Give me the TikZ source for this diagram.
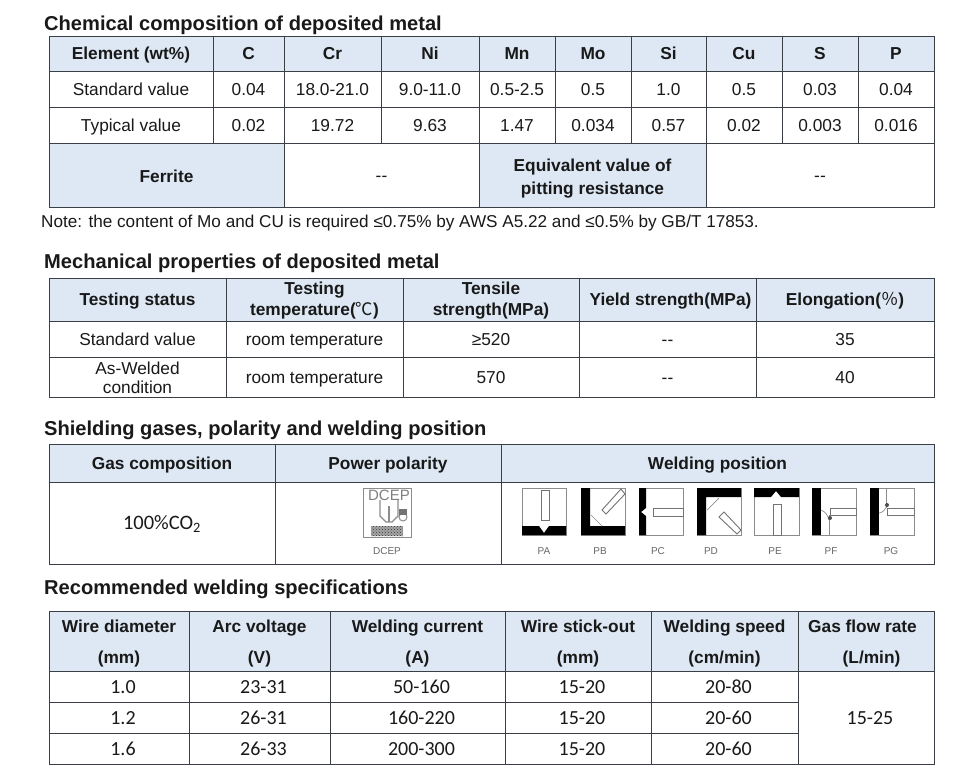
\documentclass[tikz,border=0pt]{standalone}
\usepackage{fontspec}
\setmainfont{Liberation Sans}
\newfontfamily\calfont{Carlito}
\newfontfamily\cjkfont{Noto Sans CJK SC}
\usepackage{xcolor}
\usetikzlibrary{positioning, patterns}
\definecolor{headblue}{HTML}{DDE8F4}
\definecolor{rulegray}{HTML}{3A3F45}
\definecolor{icongray}{HTML}{8C8C8C}
\tikzset{
  sectitle/.style={anchor=west, inner sep=0pt, font=\fontsize{20.1}{24}\selectfont\bfseries, text=black!90},
  bodycell/.style={draw=rulegray, line width=1pt, outer sep=0pt, inner sep=0pt, align=center, text=black!90, text height=15pt, text depth=2pt, font=\fontsize{17.3}{20}\selectfont},
  headcell/.style={bodycell, fill=headblue, text height=14pt, font=\fontsize{17.3}{21}\selectfont\bfseries},
  calcell/.style={bodycell, font=\fontsize{20}{22}\selectfont\calfont, execute at begin node={\hspace*{8pt}}},
  iconbox/.style={draw=icongray, line width=0.8pt},
  iconblack/.style={fill=black, draw=none},
  iconthin/.style={draw=icongray, line width=0.7pt},
  rodline/.style={draw=black!55, fill=white, line width=0.9pt},
  iconlabel/.style={inner sep=0pt, text=black!60, font=\fontsize{10}{11}\selectfont}
}
\begin{document}
\begin{tikzpicture}[x=1pt, y=-1pt]
  \useasboundingbox (0,0) rectangle (980,780);

  % first table
  \node (chemtitle) [sectitle] at (44,25) {Chemical composition of deposited metal};
  \node (elem) [headcell, anchor=north west, minimum width=164pt, minimum height=35pt] at (49,36) {Element (wt\%)};
  \foreach \nm/\prv/\cw/\txt in {hC/elem/71/C, hCr/hC/97/Cr, hNi/hCr/98/Ni, hMn/hNi/76/Mn, hMo/hMn/76/Mo, hSi/hMo/75/Si, hCu/hSi/76/Cu, hS/hCu/76/S, hP/hS/76/P}
    \node (\nm) [headcell, minimum width=\cw pt, minimum height=35pt, right=0pt of \prv] {\txt};

  \node (stdval) [bodycell, anchor=north west, minimum width=164pt, minimum height=36pt] at (elem.south west) {Standard value};
  \foreach \nm/\prv/\cw/\txt in {sC/stdval/71/0.04, sCr/sC/97/18.0-21.0, sNi/sCr/98/9.0-11.0, sMn/sNi/76/0.5-2.5, sMo/sMn/76/0.5, sSi/sMo/75/1.0, sCu/sSi/76/0.5, sS/sCu/76/0.03, sP/sS/76/0.04}
    \node (\nm) [bodycell, minimum width=\cw pt, minimum height=36pt, right=0pt of \prv] {\txt};

  \node (typval) [bodycell, anchor=north west, minimum width=164pt, minimum height=36pt] at (stdval.south west) {Typical value};
  \foreach \nm/\prv/\cw/\txt in {tC/typval/71/0.02, tCr/tC/97/19.72, tNi/tCr/98/9.63, tMn/tNi/76/1.47, tMo/tMn/76/0.034, tSi/tMo/75/0.57, tCu/tSi/76/0.02, tS/tCu/76/0.003, tP/tS/76/0.016}
    \node (\nm) [bodycell, minimum width=\cw pt, minimum height=36pt, right=0pt of \prv] {\txt};

  \node (ferrite) [headcell, anchor=north west, minimum width=235pt, minimum height=64pt, text height=16pt] at (typval.south west) {Ferrite};
  \node (ferval) [bodycell, minimum width=195pt, minimum height=64pt, right=0pt of ferrite] {-{}-};
  \node (equiv) [headcell, minimum width=227pt, minimum height=64pt, right=0pt of ferval, text height=40pt, font=\fontsize{17.3}{23}\selectfont\bfseries] {Equivalent value of\\pitting resistance};
  \node (eqval) [bodycell, minimum width=228pt, minimum height=64pt, right=0pt of equiv] {-{}-};
  \node (note) [anchor=west, inner sep=0pt, text=black!90, font=\fontsize{17.15}{20}\selectfont] at (41,223) {Note: the content of Mo and CU is required ≤0.75\% by AWS A5.22 and ≤0.5\% by GB/T 17853.};

  % second table
  \node (mechtitle) [sectitle] at (44,263) {Mechanical properties of deposited metal};
  \node (status) [headcell, anchor=north west, minimum width=177pt, minimum height=43pt] at (49,278) {Testing status};
  \node (temphd) [headcell, minimum width=177pt, minimum height=43pt, right=0pt of status, text height=33pt] {Testing\\temperature({\mdseries\cjkfont ℃})};
  \node (tensile) [headcell, minimum width=176pt, minimum height=43pt, right=0pt of temphd, text height=33pt] {Tensile\\strength(MPa)};
  \node (yield) [headcell, minimum width=177pt, minimum height=43pt, right=0pt of tensile] {\hspace*{6pt}Yield strength(MPa)};
  \node (elong) [headcell, minimum width=178pt, minimum height=43pt, right=0pt of yield] {Elongation({\mdseries\cjkfont ％})};

  \node (mstd) [bodycell, anchor=north west, minimum width=177pt, minimum height=36pt] at (status.south west) {Standard value};
  \foreach \nm/\prv/\cw/\txt in {mstdT/mstd/177/room temperature, mstdS/mstdT/176/≥520, mstdY/mstdS/177/-{}-, mstdE/mstdY/178/35}
    \node (\nm) [bodycell, minimum width=\cw pt, minimum height=36pt, right=0pt of \prv] {\txt};

  \node (mweld) [bodycell, anchor=north west, minimum width=177pt, minimum height=40pt, text height=35pt, font=\fontsize{17.3}{19}\selectfont] at (mstd.south west) {As-Welded\\condition};
  \foreach \nm/\prv/\cw/\txt in {mweldT/mweld/177/room temperature, mweldS/mweldT/176/570, mweldY/mweldS/177/-{}-, mweldE/mweldY/178/40}
    \node (\nm) [bodycell, minimum width=\cw pt, minimum height=40pt, right=0pt of \prv] {\txt};

  % third table
  \node (gastitle) [sectitle] at (44,430) {Shielding gases, polarity and welding position};
  \node (gashd) [headcell, anchor=north west, minimum width=226pt, minimum height=38pt, text height=15pt] at (49,444) {Gas composition};
  \node (polhd) [headcell, minimum width=226pt, minimum height=38pt, right=0pt of gashd, text height=15pt] {Power polarity};
  \node (poshd) [headcell, minimum width=433pt, minimum height=38pt, right=0pt of polhd, text height=15pt] {Welding position};
  \node (gasval) [bodycell, anchor=north west, minimum width=226pt, minimum height=82pt, font=\fontsize{20.5}{22}\selectfont\calfont] at (gashd.south west) {100\%CO\textsubscript{2}};
  \node (polval) [bodycell, minimum width=226pt, minimum height=82pt, anchor=north west] at (polhd.south west) {};
  \node (posval) [bodycell, minimum width=433pt, minimum height=82pt, right=0pt of polval] {};

  % polarity icon
  \begin{scope}[shift={(363,488)}]
    \draw [iconbox, fill=white] (0,0) rectangle (48,49);
    \node (dceptop) [inner sep=0pt, text=black!50, font=\fontsize{15}{16}\selectfont] at (26,7) {DCEP};
    \draw [iconthin, line width=1.2pt] (17,12) -- (17,28) -- (23,34) -- (29,34) -- (35,28) -- (35,12);
    \draw [iconthin, line width=1.2pt] (26,18) -- (26,34);
    \draw [iconthin, line width=1pt] (40,29) circle (4pt);
    \fill [black!55] (36,21) rectangle (44,27);
    \fill [black!35] (8,38) rectangle (40,48);
    \fill [pattern=crosshatch dots, pattern color=black!80] (8,38) rectangle (40,48);
  \end{scope}
  \node (dceplbl) [iconlabel] at (387,551) {DCEP};

  % welding position icons
  \begin{scope}[shift={(522,488)}] % PA
    \draw [iconbox] (0,0) rectangle (44,47);
    \fill [iconblack] (0,38) -- (17,38) -- (22,45) -- (27,38) -- (44,38) -- (44,47) -- (0,47) -- cycle;
    \draw [rodline] (19,2) rectangle (27,32);
  \end{scope}
  \node (palbl) [iconlabel] at (544,551) {PA};
  \begin{scope}[shift={(581,488)}] % PB
    \draw [iconbox] (0,0) rectangle (44,47);
    \fill [iconblack] (0,0) rectangle (9,47) (0,38) rectangle (44,47);
    \draw [iconthin] (10,27) -- (21,38);
    \draw [rodline] (21,22) -- (40,1) -- (44,6) -- (25,26) -- cycle;
  \end{scope}
  \node (pblbl) [iconlabel] at (600,551) {PB};
  \begin{scope}[shift={(639,488)}] % PC
    \draw [iconbox] (0,0) rectangle (44,47);
    \fill [iconblack] (0,0) -- (7,0) -- (7,20) -- (2,24) -- (7,28) -- (7,47) -- (0,47) -- cycle;
    \draw [rodline] (14,20) rectangle (44,28);
  \end{scope}
  \node (pclbl) [iconlabel] at (658,551) {PC};
  \begin{scope}[shift={(697,488)}] % PD
    \draw [iconbox] (0,0) rectangle (44,47);
    \fill [iconblack] (0,0) rectangle (44,9) (0,0) rectangle (9,47);
    \draw [iconthin] (10,22) -- (22,10);
    \draw [rodline] (22,29) -- (27,24) -- (44,42) -- (40,46) -- cycle;
  \end{scope}
  \node (pdlbl) [iconlabel] at (711,551) {PD};
  \begin{scope}[shift={(754,488)}] % PE
    \draw [iconbox] (0,0) rectangle (45,47);
    \fill [iconblack] (0,0) -- (45,0) -- (45,9) -- (27,9) -- (22,3) -- (17,9) -- (0,9) -- cycle;
    \draw [rodline] (19,16) rectangle (27,47);
  \end{scope}
  \node (pelbl) [iconlabel] at (775,551) {PE};
  \begin{scope}[shift={(812,488)}] % PF
    \draw [iconbox] (0,0) rectangle (44,47);
    \fill [iconblack] (0,0) rectangle (9,47);
    \draw [iconthin] (9,22) .. controls (14,24) and (16,28) .. (17,32);
    \draw [iconthin] (17,27) -- (17,47);
    \draw [rodline] (18,20) rectangle (44,27);
    \fill [black!70] (18,30) circle (2pt);
  \end{scope}
  \node (pflbl) [iconlabel] at (831,551) {PF};
  \begin{scope}[shift={(870,488)}] % PG
    \draw [iconbox] (0,0) rectangle (44,47);
    \fill [iconblack] (0,0) rectangle (9,47);
    \draw [iconthin] (16,0) -- (16,20);
    \draw [iconthin] (9,25) .. controls (12,25) and (15,22) .. (17,18);
    \draw [rodline] (17,20) rectangle (44,27);
    \fill [black!70] (17,17) circle (2pt);
  \end{scope}
  \node (pglbl) [iconlabel] at (891,551) {PG};

  % fourth table
  \node (spectitle) [sectitle] at (44,589) {Recommended welding specifications};
  \node (wdia) [headcell, anchor=north west, minimum width=140pt, minimum height=60pt, text height=47pt, font=\fontsize{17.3}{31}\selectfont\bfseries] at (49,611) {Wire diameter\\(mm)};
  \foreach \nm/\prv/\cw/\txt in {arc/wdia/141/{Arc voltage\\(V)}, curr/arc/175/{Welding current\\(A)}, stick/curr/146/{Wire stick-out\\(mm)}, speed/stick/147/{Welding speed\\(cm/min)}, flow/speed/136/{Gas flow rate\hspace*{7pt}\\\hspace*{11pt}(L/min)}}
    \node (\nm) [headcell, minimum width=\cw pt, minimum height=60pt, right=0pt of \prv, text height=47pt, font=\fontsize{17.3}{31}\selectfont\bfseries] {\txt};

  \node (dia1) [calcell, anchor=north west, minimum width=140pt, minimum height=31pt] at (wdia.south west) {1.0};
  \foreach \nm/\prv/\cw/\txt in {volt1/dia1/141/23-31, cur1/volt1/175/50-160, out1/cur1/146/15-20, spd1/out1/147/20-80}
    \node (\nm) [calcell, minimum width=\cw pt, minimum height=31pt, right=0pt of \prv] {\txt};
  \node (dia2) [calcell, anchor=north west, minimum width=140pt, minimum height=31pt] at (dia1.south west) {1.2};
  \foreach \nm/\prv/\cw/\txt in {volt2/dia2/141/26-31, cur2/volt2/175/160-220, out2/cur2/146/15-20, spd2/out2/147/20-60}
    \node (\nm) [calcell, minimum width=\cw pt, minimum height=31pt, right=0pt of \prv] {\txt};
  \node (dia3) [calcell, anchor=north west, minimum width=140pt, minimum height=31pt] at (dia2.south west) {1.6};
  \foreach \nm/\prv/\cw/\txt in {volt3/dia3/141/26-33, cur3/volt3/175/200-300, out3/cur3/146/15-20, spd3/out3/147/20-60}
    \node (\nm) [calcell, minimum width=\cw pt, minimum height=31pt, right=0pt of \prv] {\txt};
  \node (flowval) [calcell, anchor=north west, minimum width=136pt, minimum height=93pt] at (flow.south west) {15-25};
\end{tikzpicture}
\end{document}
